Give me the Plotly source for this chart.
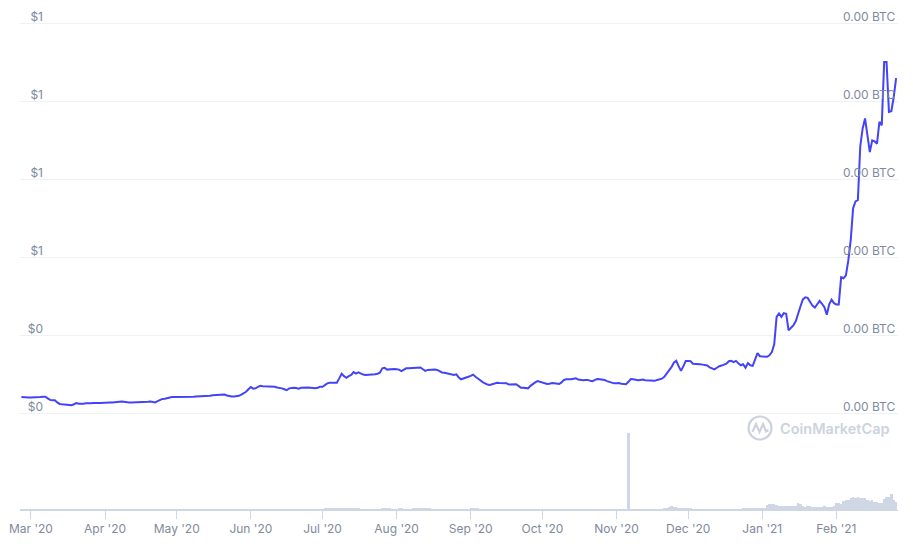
import pandas as pd
import plotly.graph_objects as go

# ---------------- data ----------------
start_date = "2020-02-26"
end_date = "2021-02-26"
month_ticks = pd.date_range("2020-03-01", "2021-02-01", freq="MS")

p_feb20 = [0.052, 0.051, 0.051, 0.051]
p_mar20 = [0.051, 0.051, 0.050, 0.051, 0.052, 0.053, 0.053, 0.048, 0.043, 0.042,
           0.042, 0.035, 0.030, 0.029, 0.028, 0.026, 0.025, 0.026, 0.029, 0.033,
           0.031, 0.030, 0.031, 0.032, 0.031, 0.032, 0.033, 0.032, 0.033, 0.033, 0.034]
p_apr20 = [0.034, 0.034, 0.035, 0.035, 0.036, 0.037, 0.038, 0.038, 0.037, 0.035,
           0.035, 0.035, 0.035, 0.035, 0.035, 0.036, 0.035, 0.036, 0.037, 0.038,
           0.036, 0.035, 0.039, 0.043, 0.046, 0.047, 0.049, 0.050, 0.052, 0.052]
p_may20 = [0.052, 0.052, 0.051, 0.052, 0.051, 0.052, 0.053, 0.053, 0.054, 0.054,
           0.054, 0.055, 0.056, 0.056, 0.056, 0.058, 0.058, 0.058, 0.059, 0.060,
           0.060, 0.057, 0.055, 0.054, 0.054, 0.055, 0.056, 0.060, 0.065, 0.069, 0.077]
p_jun20 = [0.084, 0.079, 0.080, 0.085, 0.088, 0.087, 0.087, 0.087, 0.087, 0.086,
           0.085, 0.083, 0.082, 0.080, 0.077, 0.074, 0.080, 0.082, 0.082, 0.081,
           0.079, 0.082, 0.083, 0.083, 0.083, 0.082, 0.081, 0.080, 0.082, 0.085]
p_jul20 = [0.085, 0.090, 0.096, 0.098, 0.098, 0.096, 0.098, 0.112, 0.127, 0.119,
           0.114, 0.119, 0.123, 0.132, 0.127, 0.131, 0.127, 0.124, 0.123, 0.123,
           0.124, 0.124, 0.125, 0.127, 0.130, 0.144, 0.146, 0.140, 0.141, 0.142, 0.142]
p_aug20 = [0.141, 0.140, 0.135, 0.140, 0.144, 0.144, 0.145, 0.145, 0.146, 0.146,
           0.147, 0.141, 0.136, 0.139, 0.140, 0.140, 0.140, 0.139, 0.134, 0.131,
           0.130, 0.128, 0.127, 0.123, 0.123, 0.125, 0.115, 0.109, 0.111, 0.113, 0.117]
p_sep20 = [0.120, 0.124, 0.117, 0.110, 0.106, 0.100, 0.095, 0.092, 0.091, 0.093,
           0.096, 0.098, 0.097, 0.097, 0.097, 0.096, 0.092, 0.093, 0.093, 0.093,
           0.088, 0.082, 0.082, 0.081, 0.080, 0.088, 0.095, 0.099, 0.103, 0.101]
p_oct20 = [0.100, 0.098, 0.094, 0.095, 0.097, 0.096, 0.095, 0.094, 0.099, 0.107,
           0.109, 0.108, 0.109, 0.111, 0.112, 0.108, 0.106, 0.106, 0.107, 0.107,
           0.104, 0.103, 0.107, 0.110, 0.109, 0.108, 0.107, 0.103, 0.100, 0.097, 0.096]
p_nov20 = [0.096, 0.097, 0.095, 0.094, 0.093, 0.101, 0.110, 0.109, 0.107, 0.106,
           0.107, 0.108, 0.106, 0.105, 0.104, 0.103, 0.104, 0.107, 0.108, 0.111,
           0.117, 0.127, 0.136, 0.148, 0.162, 0.168, 0.151, 0.136, 0.151, 0.168]
p_dec20 = [0.168, 0.167, 0.159, 0.159, 0.158, 0.157, 0.156, 0.155, 0.153, 0.147,
           0.144, 0.141, 0.146, 0.151, 0.153, 0.155, 0.159, 0.167, 0.168, 0.164,
           0.168, 0.160, 0.154, 0.157, 0.146, 0.161, 0.154, 0.152, 0.176, 0.193, 0.183]
p_jan21 = [0.182, 0.181, 0.181, 0.186, 0.196, 0.221, 0.309, 0.320, 0.309, 0.321,
           0.319, 0.266, 0.275, 0.282, 0.295, 0.316, 0.343, 0.365, 0.372, 0.370,
           0.356, 0.345, 0.339, 0.349, 0.360, 0.351, 0.340, 0.316, 0.349, 0.364, 0.353]
p_feb21 = [0.349, 0.349, 0.436, 0.433, 0.442, 0.490, 0.554, 0.657, 0.679, 0.683,
           0.856, 0.913, 0.945, 0.888, 0.837, 0.875, 0.872, 0.864, 0.934, 0.923,
           1.126, 1.126, 0.966, 0.968, 1.013, 1.074]

v_feb20 = [0.4, 0.4, 0.4, 0.4]
v_mar20 = [0.4, 0.4, 0.3, 0.4, 0.4, 0.3, 0.3, 0.4, 0.5, 0.5, 0.4, 0.5, 0.4, 0.4, 0.3,
           0.3, 0.3, 0.3, 0.3, 0.3, 0.3, 0.3, 0.3, 0.3, 0.3, 0.3, 0.3, 0.3, 0.3, 0.3, 0.3]
v_apr20 = [0.3, 0.3, 0.3, 0.3, 0.3, 0.3, 0.3, 0.3, 0.3, 0.3, 0.3, 0.3, 0.3, 0.3, 0.3,
           0.3, 0.3, 0.3, 0.3, 0.3, 0.3, 0.3, 0.3, 0.3, 0.3, 0.3, 0.3, 0.3, 0.3, 0.3]
v_may20 = [0.3, 0.3, 0.3, 0.3, 0.3, 0.3, 0.3, 0.3, 0.3, 0.3, 0.3, 0.3, 0.3, 0.3, 0.3,
           0.3, 0.3, 0.3, 0.3, 0.3, 0.3, 0.3, 0.3, 0.3, 0.3, 0.3, 0.3, 0.4, 0.8, 1.0, 1.0]
v_jun20 = [1.0, 1.0, 0.9, 1.0, 0.6, 0.5, 0.4, 0.4, 0.4, 0.4, 0.4, 0.4, 0.4, 0.4, 0.4,
           0.4, 0.4, 0.4, 0.4, 0.4, 0.4, 0.4, 0.4, 0.4, 0.4, 0.4, 0.4, 0.4, 0.4, 0.5]
v_jul20 = [0.6, 1.3, 1.3, 1.2, 1.3, 1.3, 1.3, 1.2, 1.3, 1.3, 1.3, 1.3, 1.3, 1.3, 1.3,
           1.2, 0.6, 0.5, 0.5, 0.5, 0.5, 0.5, 0.5, 0.5, 0.6, 1.3, 1.3, 1.3, 1.2, 0.6, 0.5]
v_aug20 = [0.6, 1.3, 1.3, 0.6, 0.5, 0.5, 0.6, 1.3, 1.3, 1.3, 1.3, 1.3, 1.3, 1.3, 1.3,
           0.6, 0.5, 0.5, 0.5, 0.5, 0.5, 0.5, 0.5, 0.5, 0.5, 0.6, 1.0, 1.0, 0.6, 0.5, 0.5]
v_sep20 = [1.3, 1.3, 1.3, 1.3, 0.7, 0.7, 0.7, 0.7, 0.7, 0.7, 0.7, 0.7, 0.7, 0.7, 0.7,
           0.7, 0.7, 0.7, 0.7, 0.7, 0.7, 0.7, 0.7, 0.7, 0.7, 0.7, 0.7, 0.7, 0.7, 0.7]
v_oct20 = [0.7, 0.7, 0.7, 0.7, 0.7, 0.7, 0.7, 0.7, 0.7, 0.7, 0.7, 0.7, 0.7, 0.7, 0.7,
           0.7, 0.7, 0.7, 0.7, 0.7, 0.7, 0.7, 0.7, 0.7, 0.7, 0.7, 0.7, 0.7, 0.7, 0.7, 0.7]
v_nov20 = [0.7, 0.7, 0.7, 0.7, 0.7, 77.0, 0.8, 0.7, 0.7, 0.7, 0.7, 0.7, 0.7, 0.7, 0.7,
           0.7, 0.7, 1.0, 1.0, 1.0, 1.2, 1.4, 3.0, 3.6, 3.4, 3.2, 1.8, 1.7, 2.0, 2.1]
v_dec20 = [2.0, 1.2, 1.0, 1.0, 0.6, 0.5, 0.5, 0.5, 0.5, 0.5, 0.5, 0.5, 0.5, 0.5, 0.5,
           0.5, 0.5, 0.5, 0.5, 0.5, 0.5, 0.5, 0.6, 1.4, 1.5, 1.8, 1.6, 2.0, 2.4, 2.2, 2.0]
v_jan21 = [2.3, 2.4, 5.2, 5.8, 6.5, 5.6, 5.0, 4.0, 4.2, 3.6, 4.4, 3.8, 4.0, 3.6, 4.2,
           6.6, 6.4, 3.8, 3.2, 3.6, 4.2, 3.0, 3.4, 2.8, 3.4, 3.0, 3.6, 3.2, 3.4, 3.0, 3.6]
v_feb21 = [7.2, 6.6, 6.0, 9.0, 9.6, 10.2, 12.2, 12.6, 12.0, 12.7, 12.4, 12.2, 11.6, 10.0,
           8.6, 9.8, 8.4, 8.0, 7.4, 6.7, 11.2, 12.8, 13.2, 15.6, 10.2, 7.8]

price_ticks = [0.0, 0.25, 0.5, 0.75, 1.0, 1.25]
price_tick_text = ["$0", "$0", "$1", "$1", "$1", "$1"]
btc_tick_text = ["0.00 BTC"] * 6

dates = pd.date_range(start_date, end_date, freq="D")
price = (p_feb20 + p_mar20 + p_apr20 + p_may20 + p_jun20 + p_jul20 + p_aug20 +
         p_sep20 + p_oct20 + p_nov20 + p_dec20 + p_jan21 + p_feb21)
volume = (v_feb20 + v_mar20 + v_apr20 + v_may20 + v_jun20 + v_jul20 + v_aug20 +
          v_sep20 + v_oct20 + v_nov20 + v_dec20 + v_jan21 + v_feb21)

# ---------------- styling ----------------
W, H = 913, 548
ML, MR, MT, MB = 20, 15, 8, 38
LINE = "#4343f7"
BAR = "#cfd6e4"
TXT = "#808a9d"
GRID = "#eff2f5"
FONT = "Inter"

plot_h = H - MT - MB
split = (510 - 418) / plot_h          # fraction of plot height for volume pane
px_per_unit = 312.0
price_lo = -(418 - 413.3) / px_per_unit
price_hi = (413.3 - MT) / px_per_unit

fig = go.Figure()
fig.add_trace(go.Bar(x=dates, y=volume, marker=dict(color=BAR, line=dict(width=0)),
                     xaxis="x", yaxis="y2", hoverinfo="skip", showlegend=False))
fig.add_trace(go.Scatter(x=dates, y=price, mode="lines",
                         line=dict(color=LINE, width=2),
                         xaxis="x", yaxis="y", hoverinfo="skip", showlegend=False))
fig.add_trace(go.Scatter(x=dates, y=price, mode="lines", opacity=0,
                         line=dict(width=0), xaxis="x", yaxis="y3",
                         hoverinfo="skip", showlegend=False))

x0 = pd.Timestamp(start_date) - pd.Timedelta(hours=14)
x1 = pd.Timestamp(end_date) + pd.Timedelta(hours=19)

fig.update_layout(
    width=W, height=H,
    margin=dict(l=ML, r=MR, t=MT, b=MB),
    paper_bgcolor="white", plot_bgcolor="white",
    font=dict(family=FONT, size=12, color=TXT),
    bargap=0,
    xaxis=dict(
        anchor="y2", range=[x0, x1], type="date",
        tickmode="array", tickvals=month_ticks, tickformat="%b '%y",
        ticks="outside", ticklen=8, tickcolor=BAR, tickwidth=1,
        showline=True, linecolor=BAR, linewidth=1,
        showgrid=False, zeroline=False, ticklabeloverflow="allow",
        tickfont=dict(family=FONT, size=12, color=TXT),
    ),
    yaxis=dict(
        domain=[split, 1], range=[price_lo, price_hi],
        tickvals=price_ticks, ticktext=price_tick_text,
        ticklabelposition="outside", ticklabelshift=-7, ticklabelstandoff=-24,
        showgrid=True, gridcolor=GRID, gridwidth=1,
        zeroline=False, showline=False, ticks="",
        tickfont=dict(family=FONT, size=12, color=TXT),
    ),
    yaxis3=dict(
        overlaying="y", side="right", anchor="x",
        range=[price_lo, price_hi],
        tickvals=price_ticks, ticktext=btc_tick_text,
        ticklabelposition="outside", ticklabelshift=-7, ticklabelstandoff=-56,
        showgrid=False, zeroline=False, showline=False, ticks="",
        tickfont=dict(family=FONT, size=12, color=TXT),
    ),
    yaxis2=dict(
        domain=[0, split], range=[0, 92],
        showticklabels=False, showgrid=False, zeroline=False, showline=False, ticks="",
    ),
)

# CoinMarketCap watermark (paper coordinates)
def px(xp):
    return (xp - ML) / (W - ML - MR)

def py(yp):
    return (H - MB - yp) / plot_h

WM = "#ccd3df"
fig.add_shape(type="circle", xref="paper", yref="paper",
              x0=px(748.5), x1=px(771.5), y0=py(439.5), y1=py(416.5),
              line=dict(color=WM, width=2.2))
pts = [(752.5, 432), (756, 424), (759.5, 432), (763, 424), (766, 431.5), (768.5, 430)]
path = "M " + " L ".join(f"{px(a):.5f},{py(b):.5f}" for a, b in pts)
fig.add_shape(type="path", xref="paper", yref="paper", path=path,
              line=dict(color=WM, width=2.2))
fig.add_annotation(text="CoinMarketCap", xref="paper", yref="paper",
                   x=px(778), y=py(428), xanchor="left", yanchor="middle",
                   showarrow=False,
                   font=dict(family=FONT, size=14.5, color=WM, weight=600))

fig.write_html("out.html", config={"displayModeBar": False},
               post_script="document.body.style.margin='0';document.body.style.overflow='hidden';")
